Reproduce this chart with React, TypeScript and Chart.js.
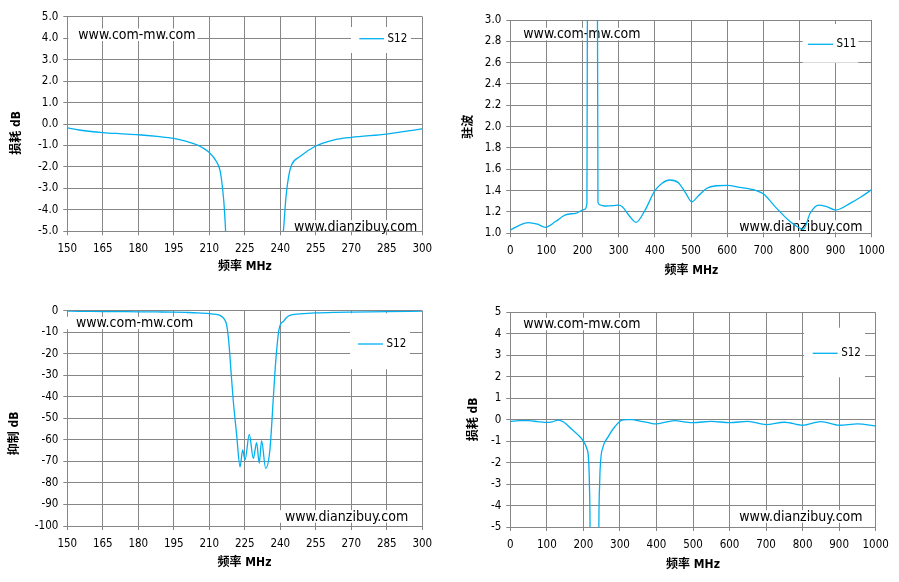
import React, { useRef, useEffect } from 'react';
import { Chart, LineController, LineElement, PointElement, LinearScale } from 'chart.js';

Chart.register(LineController, LineElement, PointElement, LinearScale);

// S12 sweep 150-300 MHz (used by the loss plot and the rejection plot)
const narrowFreq = [
    150, 155, 160, 165, 172, 180, 188, 195, 200, 205, 210, 213, 214.5, 215.5, 216.5, 217.3, 218.2, 219.1,
    220.1, 221.5, 223.0, 224.1, 225.1, 226.9, 228.6, 230.0, 231.1, 232.1, 233.8, 235.6, 237.0, 237.8,
    238.6, 239.4, 240.2, 241.3, 242.4, 243.5, 244.8, 248.3, 254.6, 262.4, 270, 285, 300,
];
const narrowS12 = [
    -0.18, -0.28, -0.35, -0.4, -0.45, -0.5, -0.58, -0.67, -0.8, -0.98, -1.33, -1.75, -2.15, -2.9, -4.2, -6.5, -14, -27,
    -41.5, -57, -72.5, -64.7, -69.3, -57.4, -68.6, -61.3, -70.9, -60.4, -73.2, -64.7, -41.5, -27.5,
    -16.7, -9, -6, -5, -3.4, -2.45, -1.9, -1.52, -1.05, -0.75, -0.62, -0.47, -0.23,
];

// S11 (VSWR) sweep 0-1000 MHz
const vswrFreq = [
    0, 25, 50, 75, 97, 125, 151, 183, 206, 212, 214, 228, 240.5, 242.5, 250, 262, 285, 299, 310, 330, 348,
    373, 400, 420, 442, 465, 485, 502, 520, 543, 571, 600, 635, 681, 700, 737, 774, 800, 811, 830, 853,
    875, 900, 940, 970, 1000,
];
const vswrS11 = [
    1.03, 1.075, 1.1, 1.085, 1.056, 1.11, 1.17, 1.19, 1.225, 1.28, 4, 40, 4, 1.29, 1.265, 1.256, 1.26, 1.265, 1.25, 1.16, 1.103,
    1.218, 1.4, 1.47, 1.5, 1.475, 1.38, 1.296, 1.35, 1.42, 1.446, 1.45, 1.43, 1.4, 1.37, 1.234, 1.11, 1.05, 1.037, 1.19, 1.265,
    1.25, 1.218, 1.28, 1.34, 1.41,
];

// S12 sweep 0-1000 MHz
const wideFreq = [
    0, 25, 50, 75, 100, 115, 131, 145, 168, 186, 200, 209, 214, 216.5, 218.5, 222, 230, 238, 242, 244.5, 247,
    254, 268, 286, 304, 318, 335, 350, 375, 400, 425, 451, 475, 500, 550, 600, 650, 700, 750, 800, 850, 900,
    950, 1000,
];
const wideS12 = [
    -0.08, -0.05, -0.05, -0.09, -0.13, -0.1, -0.02, -0.1, -0.45, -0.72, -1.0, -1.33, -1.8, -3.0, -6, -30, -70, -30, -6, -3, -1.97,
    -1.26, -0.79, -0.33, -0.03, 0, 0, -0.05, -0.13, -0.2, -0.12, -0.05, -0.1, -0.14, -0.08, -0.14, -0.08, -0.23, -0.12, -0.26, -0.09, -0.26,
    -0.2, -0.3,
];

const narrowFreqTicks = [150, 165, 180, 195, 210, 225, 240, 255, 270, 285, 300];
const wideFreqTicks = [0, 100, 200, 300, 400, 500, 600, 700, 800, 900, 1000];
const lossTicksFine = [-5, -4, -3, -2, -1, 0, 1, 2, 3, 4, 5];
const vswrTicks = [1.0, 1.2, 1.4, 1.6, 1.8, 2.0, 2.2, 2.4, 2.6, 2.8, 3.0];
const rejectionTicks = [-100, -90, -80, -70, -60, -50, -40, -30, -20, -10, 0];
const lossTicks = [-5, -4, -3, -2, -1, 0, 1, 2, 3, 4, 5];

const watermarks = ['www.com-mw.com', 'www.dianzibuy.com'];

const GRID = '#868686';
const LINE = '#00B0F0';
const LATIN = "'DejaVu Sans Condensed', 'DejaVu Sans', sans-serif";
const TITLE = "'DejaVu Sans Condensed', 'Noto Sans CJK SC', sans-serif";

type Panel = {
    left: number;
    top: number;
    width: number;
    height: number;
    area: [number, number, number, number]; // plot area l, t, r, b inside the canvas
    freq: number[];
    values: number[];
    label: string;
    xTicks: number[];
    yTicks: number[];
    digits: number;
    yTitle: string;
    yTitleAt: [number, number];
    xTitle: string;
    xTitleAt: [number, number];
    marks: [number, number][];
    legend: [number, number, number, number];
    legendLine: [number, number, number];
};

const PlotPanel = ({ p }: { p: Panel }) => {
    const canvasRef = useRef<HTMLCanvasElement>(null);
    const chartRef = useRef<Chart | null>(null);

    useEffect(() => {
        const ctx = canvasRef.current?.getContext('2d');
        if (!ctx) return;
        if (chartRef.current) chartRef.current.destroy();

        const [l, t, r, b] = p.area;

        // watermark boxes, legend and axis titles, drawn the way the Excel sheet has them
        const decor = {
            id: 'decor',
            beforeDatasetsDraw(chart: Chart) {
                const c = chart.ctx;
                c.save();
                c.font = `14px ${LATIN}`;
                c.textAlign = 'left';
                c.textBaseline = 'alphabetic';
                watermarks.forEach((text, i) => {
                    const [x, y] = p.marks[i];
                    const w = c.measureText(text).width;
                    const padL = i === 0 ? 10 : 6;
                    const top = y - 10.5;
                    const bottom = Math.min(y + 2, b - 1);
                    c.fillStyle = '#fff';
                    c.fillRect(x - padL, top, w + padL + 2, bottom - top);
                    c.fillStyle = '#000';
                    c.fillText(text, x, y);
                });
                const [bx, by, bw, bh] = p.legend;
                c.fillStyle = '#fff';
                c.fillRect(bx, by, bw, bh);
                const [x1, x2, ly] = p.legendLine;
                c.strokeStyle = LINE;
                c.lineWidth = 1.3;
                c.beginPath();
                c.moveTo(x1, ly);
                c.lineTo(x2, ly);
                c.stroke();
                c.font = `11.5px ${LATIN}`;
                c.fillStyle = '#000';
                c.textBaseline = 'middle';
                c.fillText(String(chart.data.datasets[0].label), x2 + 3.5, ly);
                c.restore();
            },
            afterDraw(chart: Chart) {
                const c = chart.ctx;
                c.save();
                c.font = `bold 12px ${TITLE}`;
                c.fillStyle = '#000';
                c.textAlign = 'center';
                c.textBaseline = 'middle';
                c.fillText(p.xTitle, p.xTitleAt[0], p.xTitleAt[1]);
                c.translate(p.yTitleAt[0], p.yTitleAt[1]);
                c.rotate(-Math.PI / 2);
                c.fillText(p.yTitle, 0, 0);
                c.restore();
            },
        };

        const tickFont = { family: LATIN, size: 11.5 };

        chartRef.current = new Chart(ctx, {
            type: 'line',
            data: {
                datasets: [
                    {
                        label: p.label,
                        data: p.freq.map((x, i) => ({ x, y: p.values[i] })),
                        borderColor: LINE,
                        borderWidth: 1.3,
                        pointRadius: 0,
                        cubicInterpolationMode: 'monotone',
                        fill: false,
                    },
                ],
            },
            options: {
                animation: false,
                responsive: false,
                events: [],
                layout: { padding: { left: 0, top: t, right: p.width - r, bottom: 0 } },
                plugins: { legend: { display: false }, tooltip: { enabled: false } },
                scales: {
                    x: {
                        type: 'linear',
                        min: p.xTicks[0],
                        max: p.xTicks[p.xTicks.length - 1],
                        afterBuildTicks: (s: any) => {
                            s.ticks = p.xTicks.map((v) => ({ value: v }));
                        },
                        afterFit: (s: any) => {
                            s.height = p.height - b;
                        },
                        grid: { color: GRID, lineWidth: 1, tickLength: 4 },
                        border: { color: GRID, width: 1 },
                        ticks: {
                            font: tickFont,
                            color: '#000',
                            padding: 7,
                            autoSkip: false,
                            maxRotation: 0,
                            callback: (v: any) => String(v),
                        },
                    },
                    y: {
                        type: 'linear',
                        min: p.yTicks[0],
                        max: p.yTicks[p.yTicks.length - 1],
                        afterBuildTicks: (s: any) => {
                            s.ticks = p.yTicks.map((v) => ({ value: v }));
                        },
                        afterFit: (s: any) => {
                            s.width = l;
                        },
                        grid: { color: GRID, lineWidth: 1, tickLength: 4 },
                        border: { color: GRID, width: 1 },
                        ticks: {
                            font: tickFont,
                            color: '#000',
                            padding: 5,
                            autoSkip: false,
                            callback: (v: any) => Number(v).toFixed(p.digits),
                        },
                    },
                },
            },
            plugins: [decor],
        });

        return () => {
            if (chartRef.current) {
                chartRef.current.destroy();
                chartRef.current = null;
            }
        };
    }, [p]);

    return (
        <div style={{ position: 'absolute', left: p.left, top: p.top, width: p.width, height: p.height }}>
            <canvas ref={canvasRef} width={p.width} height={p.height} style={{ width: p.width, height: p.height }} />
        </div>
    );
};

const panels: Panel[] = [
    {
        left: 0, top: 0, width: 450, height: 290,
        area: [67.3, 16.7, 422.3, 231.3],
        freq: narrowFreq, values: narrowS12, label: 'S12',
        xTicks: narrowFreqTicks, yTicks: lossTicksFine, digits: 1,
        yTitle: '损耗 dB', yTitleAt: [17.3, 132.8],
        xTitle: '频率 MHz', xTitleAt: [244.8, 266.7],
        marks: [[78.3, 39], [294, 230.7]],
        legend: [351, 27, 60, 26], legendLine: [359.3, 384, 38.7],
    },
    {
        left: 450, top: 0, width: 449, height: 290,
        area: [60.3, 20, 421.7, 233.3],
        freq: vswrFreq, values: vswrS11, label: 'S11',
        xTicks: wideFreqTicks, yTicks: vswrTicks, digits: 1,
        yTitle: '驻波', yTitleAt: [18.7, 126.7],
        xTitle: '频率 MHz', xTitleAt: [241.3, 270.7],
        marks: [[73.3, 38.3], [289.3, 230.7]],
        legend: [352.7, 24, 55.6, 38.7], legendLine: [358, 383, 44.3],
    },
    {
        left: 0, top: 290, width: 450, height: 292,
        area: [67.3, 20.7, 422.3, 236],
        freq: narrowFreq, values: narrowS12, label: 'S12',
        xTicks: narrowFreqTicks, yTicks: rejectionTicks, digits: 0,
        yTitle: '抑制 dB', yTitleAt: [15.3, 143.3],
        xTitle: '频率 MHz', xTitleAt: [244.5, 273.3],
        marks: [[76, 37.3], [285, 230.7]],
        legend: [350, 23.3, 60, 56], legendLine: [358, 383, 54],
    },
    {
        left: 450, top: 290, width: 449, height: 292,
        area: [60.3, 22.3, 425.7, 237],
        freq: wideFreq, values: wideS12, label: 'S12',
        xTicks: wideFreqTicks, yTicks: lossTicks, digits: 0,
        yTitle: '损耗 dB', yTitleAt: [23.8, 129.5],
        xTitle: '频率 MHz', xTitleAt: [243, 275],
        marks: [[73.3, 38.3], [289.3, 230.7]],
        legend: [354, 37.7, 61, 49.6], legendLine: [362.7, 387.7, 63.3],
    },
];

const App = () => {
    return (
        <div style={{ position: 'absolute', left: 0, top: 0, width: 899, height: 582, background: '#fff' }}>
            {panels.map((p, i) => (
                <PlotPanel key={i} p={p} />
            ))}
        </div>
    );
};

export default App;
